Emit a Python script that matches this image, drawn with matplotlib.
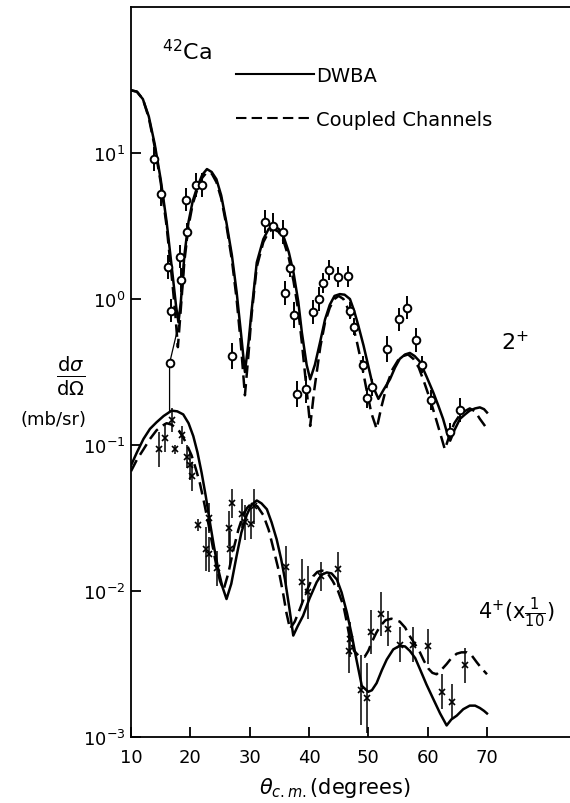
import numpy as np
import matplotlib
matplotlib.use("Agg")
import matplotlib.pyplot as plt
from matplotlib.lines import Line2D
from matplotlib.ticker import LogFormatterMathtext, NullLocator

plt.rcParams['font.family'] = ['DejaVu Sans']
plt.rcParams['mathtext.fontset'] = 'dejavusans'

# ---------------- data ----------------
# 2+ DWBA (solid)
dwba2_deg = [10.0, 11.0, 12.0, 13.0, 14.0, 15.0, 16.0, 17.0, 17.6, 18.0, 18.4, 19.0, 19.7,
             20.4, 21.1, 22.0, 22.8, 23.6, 24.4, 25.2, 26.1, 27.0, 27.8, 28.5, 29.2, 29.8,
             30.3, 31.2, 32.3, 33.2, 34.0, 34.9, 35.7, 36.6, 37.4, 38.2, 38.8, 39.6, 40.2,
             41.0, 41.9, 42.7, 43.5, 44.3, 45.2, 46.0, 46.9, 47.6, 48.3, 49.2, 50.0, 50.8,
             51.7, 52.6, 53.65, 54.5, 55.3, 56.2, 57.0, 57.8, 58.7, 59.8, 60.95, 61.8, 62.6,
             63.3, 63.8, 64.5, 65.45, 66.3, 67.1, 68.0, 68.8, 69.5, 70.0]
dwba2_val = [26.9, 26.3, 23.4, 17.8, 11.5, 6.61, 3.39, 1.48, 0.891, 0.692, 0.955, 2.00, 3.39,
             4.68, 5.75, 7.08, 7.76, 7.41, 6.61, 5.13, 3.31, 2.00, 1.12, 0.603, 0.316, 0.501,
             0.813, 1.78, 2.57, 3.02, 3.16, 3.02, 2.69, 2.09, 1.51, 0.955, 0.589, 0.355, 0.282,
             0.355, 0.513, 0.724, 0.912, 1.05, 1.08, 1.07, 1.00, 0.832, 0.661, 0.479, 0.347, 0.251,
             0.207, 0.240, 0.282, 0.339, 0.389, 0.417, 0.427, 0.407, 0.372, 0.295, 0.229, 0.186, 0.151,
             0.120, 0.107, 0.126, 0.151, 0.162, 0.172, 0.178, 0.181, 0.176, 0.167]

# 2+ coupled channels (dashed)
cc2_deg = [10.0, 11.0, 12.0, 13.0, 14.0, 15.0, 16.0, 17.0, 17.5, 17.9, 18.3, 19.0, 19.7,
           20.4, 21.1, 22.0, 22.8, 23.6, 24.4, 25.2, 26.1, 27.0, 27.8, 28.5, 29.2, 29.8,
           30.3, 31.2, 32.3, 33.2, 34.0, 34.9, 35.7, 36.6, 37.4, 38.2, 38.8, 39.6, 40.2,
           40.9, 41.9, 42.7, 43.5, 44.3, 45.0, 45.8, 46.5, 47.3, 48.0, 48.8, 49.6, 50.5,
           51.4, 52.2, 53.2, 54.1, 55.0, 55.9, 56.7, 57.6, 58.5, 59.5, 60.5, 61.4, 62.2,
           62.9, 63.7, 64.5, 65.3, 66.2, 67.1, 68.0, 68.8, 69.5, 70.0]
cc2_val = [26.9, 26.3, 23.4, 17.4, 11.0, 6.31, 3.16, 1.26, 0.759, 0.468, 0.759, 1.82, 3.16,
           4.47, 5.50, 6.76, 7.41, 7.24, 6.31, 4.90, 3.16, 1.86, 1.00, 0.501, 0.219, 0.417,
           0.759, 1.66, 2.45, 2.88, 3.02, 2.88, 2.51, 1.91, 1.32, 0.832, 0.501, 0.240, 0.135,
           0.240, 0.468, 0.692, 0.871, 1.00, 1.05, 1.00, 0.871, 0.676, 0.525, 0.372, 0.251, 0.166,
           0.129, 0.182, 0.263, 0.331, 0.380, 0.407, 0.417, 0.389, 0.339, 0.263, 0.200, 0.151, 0.117,
           0.0933, 0.117, 0.141, 0.158, 0.170, 0.178, 0.170, 0.151, 0.138, 0.129]

# 4+ (x 1/10) DWBA (solid)
dwba4_deg = [10.0, 11.0, 12.1, 13.2, 14.3, 15.5, 16.85, 17.8, 18.8, 19.7, 20.5, 21.2, 21.9,
             22.6, 23.3, 24.0, 24.7, 25.4, 26.1, 26.9, 27.8, 28.6, 29.5, 30.3, 31.2, 32.0,
             32.9, 33.7, 34.55, 35.3, 35.95, 36.7, 37.35, 38.1, 39.0, 40.1, 41.3, 42.1, 43.0,
             43.8, 44.7, 45.5, 46.4, 47.2, 48.0, 48.9, 50.0, 50.6, 51.4, 52.3, 53.1, 54.2,
             55.3, 56.2, 57.0, 57.9, 58.7, 59.8, 60.95, 62.1, 63.2, 64.0, 64.9, 66.0, 67.1,
             68.0, 68.8, 69.5, 70.0]
dwba4_val = [0.0724, 0.0891, 0.110, 0.129, 0.143, 0.158, 0.172, 0.170, 0.162, 0.141, 0.115, 0.0891, 0.0646,
             0.0447, 0.0295, 0.0200, 0.0141, 0.0107, 0.00881, 0.0112, 0.0174, 0.0251, 0.0331, 0.0389, 0.0417, 0.0398,
             0.0363, 0.0295, 0.0226, 0.0166, 0.0120, 0.00759, 0.00495, 0.00575, 0.00676, 0.00891, 0.0115, 0.0129, 0.0134,
             0.0132, 0.0120, 0.00977, 0.00708, 0.00501, 0.00339, 0.00224, 0.00204, 0.00209, 0.00234, 0.00288, 0.00339, 0.00398,
             0.00422, 0.00417, 0.00389, 0.00347, 0.00292, 0.00229, 0.00182, 0.00145, 0.00120, 0.00132, 0.00140, 0.00155, 0.00164,
             0.00164, 0.00158, 0.00151, 0.00145]

# 4+ (x 1/10) coupled channels (dashed)
cc4_deg = [10.0, 11.0, 12.1, 13.2, 14.3, 15.2, 16.0, 16.8, 17.5, 18.25, 19.2, 20.2, 20.9,
           21.6, 22.3, 23.0, 23.7, 24.4, 25.0, 25.6, 26.4, 27.3, 28.1, 28.9, 29.6, 30.3,
           31.3, 32.3, 33.2, 34.0, 34.9, 35.7, 36.2, 36.8, 37.6, 38.5, 39.6, 40.7, 41.4,
           42.2, 43.0, 44.0, 44.9, 45.8, 46.4, 46.9, 47.6, 48.3, 49.4, 50.0, 50.6, 51.3,
           52.0, 52.9, 53.9, 55.3, 56.2, 57.0, 57.8, 58.7, 59.4, 60.1, 60.8, 61.5, 62.3,
           63.2, 64.0, 64.9, 65.7, 66.6, 67.4, 68.3, 69.1, 70.0]
cc4_val = [0.0661, 0.0794, 0.0933, 0.110, 0.126, 0.135, 0.141, 0.138, 0.132, 0.123, 0.105, 0.0851, 0.0692,
           0.0550, 0.0407, 0.0295, 0.0209, 0.0148, 0.0117, 0.0102, 0.0132, 0.0195, 0.0263, 0.0331, 0.0372, 0.0398,
           0.0380, 0.0331, 0.0263, 0.0195, 0.0138, 0.00933, 0.00708, 0.00550, 0.00617, 0.00759, 0.0100, 0.0126, 0.0135,
           0.0138, 0.0135, 0.0117, 0.0100, 0.00794, 0.00603, 0.00468, 0.00389, 0.00363, 0.00355, 0.00389, 0.00447, 0.00513,
           0.00575, 0.00631, 0.00646, 0.00617, 0.00562, 0.00490, 0.00437, 0.00380, 0.00331, 0.00295, 0.00275, 0.00269, 0.00288,
           0.00316, 0.00347, 0.00372, 0.00380, 0.00380, 0.00363, 0.00324, 0.00295, 0.00269]

# thin pen line near 16.5 deg
thin_deg = [18.0, 16.5, 16.5]
thin_val = [0.66, 0.363, 0.168]

# 2+ measured points (circles); err in decades
exp2_deg = [13.9, 15.0, 16.3, 16.7, 16.5, 18.25, 18.5, 19.3, 19.5, 20.9, 21.9, 27.1, 32.6, 33.9,
            35.7, 36.0, 36.8, 37.5, 38.0, 39.5, 40.6, 41.7, 42.4, 43.4, 44.9, 46.5, 46.9, 47.6,
            49.05, 49.7, 50.7, 53.2, 55.1, 56.5, 58.0, 59.0, 60.6, 63.8, 65.45]
exp2_val = [9.12, 5.25, 1.66, 0.832, 0.363, 1.95, 1.35, 4.79, 2.88, 6.03, 6.03, 0.407, 3.39, 3.16,
            2.88, 1.10, 1.62, 0.776, 0.224, 0.240, 0.813, 1.00, 1.29, 1.58, 1.41, 1.43, 0.832, 0.646,
            0.355, 0.209, 0.248, 0.457, 0.724, 0.871, 0.525, 0.355, 0.204, 0.123, 0.174]
exp2_err = [0.08, 0.08, 0.08, 0.08, 0.03, 0.08, 0.08, 0.08, 0.06, 0.08, 0.08, 0.09, 0.08, 0.09,
            0.08, 0.08, 0.06, 0.09, 0.09, 0.09, 0.08, 0.08, 0.07, 0.07, 0.07, 0.07, 0.06, 0.06,
            0.06, 0.07, 0.06, 0.09, 0.08, 0.08, 0.08, 0.06, 0.07, 0.06, 0.08]

# 4+ measured points (crosses, x 1/10); err in decades
exp4_deg = [14.8, 15.7, 16.85, 17.4, 18.65, 19.4, 19.95, 20.3, 21.35, 22.6, 23.2, 23.1, 24.55,
            26.5, 26.7, 27.1, 28.65, 29.2, 30.2, 30.7, 36.1, 38.8, 39.9, 42.1, 44.95, 46.8,
            46.9, 48.8, 49.7, 50.45, 52.1, 53.4, 55.3, 57.6, 60.0, 62.35, 64.05, 66.3]
exp4_val = [0.0933, 0.112, 0.148, 0.0933, 0.117, 0.0832, 0.0724, 0.0610, 0.0282, 0.0195, 0.0178, 0.0316, 0.0143,
            0.0269, 0.0195, 0.0398, 0.0339, 0.0295, 0.0288, 0.0380, 0.0145, 0.0115, 0.00977, 0.0126, 0.0141, 0.00389,
            0.00468, 0.00209, 0.00184, 0.00525, 0.00692, 0.00550, 0.00427, 0.00427, 0.00417, 0.00204, 0.00174, 0.00309]
exp4_err = [0.12, 0.10, 0.08, 0.03, 0.06, 0.08, 0.10, 0.10, 0.04, 0.15, 0.12, 0.10, 0.12,
            0.12, 0.12, 0.10, 0.10, 0.12, 0.10, 0.12, 0.15, 0.16, 0.18, 0.10, 0.12, 0.15,
            0.12, 0.24, 0.24, 0.15, 0.15, 0.12, 0.12, 0.12, 0.12, 0.12, 0.12, 0.12]

x_ticks = [10, 20, 30, 40, 50, 60, 70]
y_ticks = [1e-3, 1e-2, 1e-1, 1e0, 1e1]

# ---------------- figure ----------------
W, H = 570, 804
fig = plt.figure(figsize=(W / 100, H / 100), dpi=100)
ax = fig.add_axes([131 / W, 1 - 738 / H, (W - 131) / W, (738 - 8) / H])

lw = 1.8
ax.plot(dwba2_deg, dwba2_val, color='black', lw=lw, solid_joinstyle='round')
ax.plot(cc2_deg, cc2_val, color='black', lw=lw, ls=(0, (5, 2.5)))
ax.plot(dwba4_deg, dwba4_val, color='black', lw=lw, solid_joinstyle='round')
ax.plot(cc4_deg, cc4_val, color='black', lw=lw, ls=(0, (5, 2.5)))
ax.plot(thin_deg, thin_val, color='black', lw=0.9)


def dex_err(vals, errs):
    v = np.asarray(vals)
    e = np.asarray(errs)
    return np.vstack([v * (1 - 10 ** (-e)), v * (10 ** e - 1)])


ax.errorbar(exp2_deg, exp2_val, yerr=dex_err(exp2_val, exp2_err), fmt='o', ms=5.5,
            mfc='white', mec='black', mew=1.4, ecolor='black', elinewidth=1.4, capsize=0, zorder=5)
ax.errorbar(exp4_deg, exp4_val, yerr=dex_err(exp4_val, exp4_err), fmt='x', ms=4.5,
            mec='black', mew=1.2, ecolor='black', elinewidth=1.1, capsize=0, zorder=5)

ax.set_yscale('log')
ax.set_xlim(10, 10 + (W - 131) / 5.933)
ax.set_ylim(1e-3, 1e2)
ax.set_xticks(x_ticks)
ax.set_yticks(y_ticks)
ax.yaxis.set_major_formatter(LogFormatterMathtext())
ax.yaxis.set_minor_locator(NullLocator())
ax.xaxis.set_minor_locator(NullLocator())
ax.tick_params(axis='both', direction='in', length=7, width=1.3, labelsize=13)
ax.tick_params(axis='x', pad=8)
ax.tick_params(axis='y', pad=4)
ax.spines['right'].set_visible(False)
for s in ['left', 'top', 'bottom']:
    ax.spines[s].set_linewidth(1.3)

# legend
handles = [Line2D([], [], color='black', lw=1.5),
           Line2D([], [], color='black', lw=1.5, ls=(0, (5, 2.5)))]
fig.legend(handles, ['DWBA', 'Coupled Channels'], loc='upper left',
           bbox_to_anchor=(236 / W, 1 - 67 / H), frameon=False, fontsize=14,
           handlelength=4.0, handletextpad=0.1, labelspacing=1.3,
           borderpad=0, borderaxespad=0)

# annotations
fig.text(162 / W, 1 - 60 / H, r'$^{42}$Ca', fontsize=16, ha='left', va='baseline')
fig.text(501 / W, 1 - 350 / H, r'2$^{+}$', fontsize=16, ha='left', va='baseline')
fig.text(478 / W, 1 - 619 / H, r'4$^{+}$(x$\frac{1}{10}$)', fontsize=15, ha='left', va='baseline')

fig.text(71 / W, 1 - 376 / H, r'$\frac{\mathrm{d}\sigma}{\mathrm{d}\Omega}$', fontsize=20,
         ha='center', va='center')
fig.text(54 / W, 1 - 420 / H, '(mb/sr)', fontsize=13, ha='center', va='center')
fig.text(259 / W, 1 - 794 / H, r'$\theta_{c.m.}$(degrees)', fontsize=15, ha='left', va='baseline')

fig.savefig('out.png', dpi=100)
